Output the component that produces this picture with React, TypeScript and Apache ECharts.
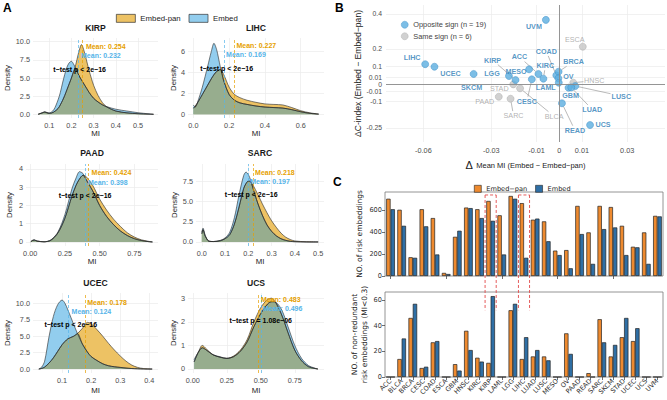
import React, { useEffect, useRef } from 'react';
import * as echarts from 'echarts';

// ---------------- Panel A: density curves (MI grid, density values) ----------------
const PANEL_NAMES = ['KIRP', 'LIHC', 'PAAD', 'SARC', 'UCEC', 'UCS'];

const KIRP_MI = [0.05, 0.07, 0.08, 0.09, 0.10, 0.12, 0.14, 0.15, 0.16, 0.17, 0.18, 0.19, 0.20, 0.21, 0.22, 0.23, 0.24, 0.245, 0.25, 0.26, 0.27, 0.28, 0.30, 0.32, 0.34, 0.36, 0.40, 0.45, 0.50, 0.55, 0.57];
const KIRP_PAN = [0, 0.2, 0.3, 0.2, 0.12, 0.3, 0.8, 1.3, 1.9, 2.6, 3.4, 4.2, 5.0, 5.9, 6.9, 8.2, 9.3, 9.6, 9.4, 8.4, 7.2, 6.0, 4.0, 2.6, 1.6, 1.0, 0.45, 0.2, 0.08, 0.02, 0];
const KIRP_EMB = [0, 0.25, 0.35, 0.25, 0.2, 0.6, 2.0, 3.0, 4.3, 5.5, 6.5, 7.1, 7.3, 6.9, 6.3, 5.6, 5.0, 4.75, 4.5, 4.0, 3.5, 3.0, 2.2, 1.7, 1.3, 1.05, 0.7, 0.45, 0.22, 0.06, 0];

const LIHC_MI = [0, 0.01, 0.03, 0.05, 0.08, 0.10, 0.115, 0.13, 0.15, 0.17, 0.20, 0.23, 0.26, 0.30, 0.35, 0.40, 0.45, 0.50, 0.55, 0.60, 0.65, 0.70];
const LIHC_PAN = [0.6, 0.8, 1.3, 1.9, 2.8, 3.4, 3.8, 4.1, 4.3, 3.8, 2.6, 1.9, 1.6, 1.35, 1.15, 1.0, 0.95, 0.9, 0.65, 0.35, 0.15, 0.03];
const LIHC_EMB = [0.9, 0.7, 1.5, 2.6, 4.6, 6.0, 6.8, 6.2, 4.6, 3.2, 1.9, 1.35, 1.1, 0.95, 0.8, 0.7, 0.65, 0.6, 0.45, 0.25, 0.1, 0.02];

const PAAD_MI = [0.005, 0.02, 0.03, 0.05, 0.10, 0.15, 0.20, 0.25, 0.30, 0.33, 0.355, 0.38, 0.40, 0.45, 0.50, 0.55, 0.60, 0.65, 0.70, 0.75, 0.80, 0.85, 0.88];
const PAAD_PAN = [0.02, 0.09, 0.1, 0.05, 0.01, 0.1, 0.5, 1.3, 2.5, 3.1, 3.45, 3.65, 3.6, 3.1, 2.35, 1.75, 1.25, 0.85, 0.5, 0.27, 0.12, 0.04, 0];
const PAAD_EMB = [0.02, 0.11, 0.12, 0.05, 0.01, 0.12, 0.55, 1.5, 2.9, 3.5, 3.85, 3.75, 3.45, 2.8, 2.0, 1.4, 0.95, 0.6, 0.35, 0.18, 0.08, 0.02, 0];

const SARC_MI = [0.0, 0.005, 0.015, 0.03, 0.05, 0.08, 0.10, 0.12, 0.14, 0.16, 0.18, 0.19, 0.20, 0.21, 0.22, 0.24, 0.26, 0.28, 0.30, 0.32, 0.34, 0.36, 0.38, 0.40, 0.45, 0.50];
const SARC_PAN = [1.0, 1.5, 0.7, 0.1, 0.05, 0.15, 0.4, 0.9, 2.2, 4.3, 6.6, 7.2, 7.5, 7.4, 7.0, 5.9, 4.7, 3.6, 2.6, 1.8, 1.1, 0.6, 0.3, 0.12, 0.02, 0];
const SARC_EMB = [1.2, 1.7, 0.8, 0.1, 0.05, 0.2, 0.5, 1.2, 3.0, 5.8, 8.2, 8.6, 8.3, 7.6, 6.6, 4.8, 3.3, 2.1, 1.3, 0.75, 0.4, 0.2, 0.08, 0.03, 0, 0];

const UCEC_MI = [0.02, 0.03, 0.04, 0.055, 0.07, 0.085, 0.10, 0.11, 0.12, 0.14, 0.153, 0.17, 0.187, 0.20, 0.22, 0.24, 0.26, 0.28, 0.30, 0.32, 0.34, 0.36, 0.38, 0.41];
const UCEC_PAN = [0, 0.1, 0.3, 0.9, 1.7, 2.7, 3.7, 4.2, 4.6, 5.0, 5.4, 6.2, 7.1, 6.9, 6.0, 5.0, 3.9, 2.9, 2.0, 1.2, 0.6, 0.25, 0.08, 0];
const UCEC_EMB = [0, 0.3, 1.2, 4.9, 8.0, 9.8, 10.5, 10.0, 9.0, 6.8, 5.4, 3.8, 2.6, 1.9, 1.3, 0.8, 0.5, 0.35, 0.25, 0.15, 0.08, 0.04, 0.01, 0];

const UCS_MI = [0.01, 0.04, 0.07, 0.10, 0.15, 0.20, 0.25, 0.30, 0.35, 0.40, 0.45, 0.50, 0.55, 0.58, 0.60, 0.65, 0.70, 0.75, 0.80, 0.85, 0.90, 0.92];
const UCS_PAN = [0.3, 0.7, 1.0, 0.85, 0.6, 0.5, 0.45, 0.55, 0.8, 1.25, 2.0, 2.6, 2.95, 3.0, 2.9, 2.35, 1.55, 0.8, 0.35, 0.1, 0.02, 0];
const UCS_EMB = [0.4, 0.7, 0.9, 0.8, 0.6, 0.52, 0.45, 0.52, 0.75, 1.15, 1.8, 2.35, 2.75, 2.85, 2.85, 2.55, 1.8, 1.0, 0.45, 0.15, 0.03, 0];

const MEAN_PAN = [0.254, 0.227, 0.424, 0.218, 0.178, 0.483];
const MEAN_EMB = [0.232, 0.169, 0.398, 0.197, 0.124, 0.496];
const TTEST = ['t−test p < 2e−16', 't−test p < 2e−16', 't−test p < 2e−16', 't−test p < 2e−16', 't−test p < 2e−16', 't−test p = 1.08e−06'];

const A_X_TICKS = [[0.1, 0.2, 0.3, 0.4, 0.5], [0, 0.2, 0.4, 0.6], [0, 0.25, 0.5, 0.75], [0, 0.1, 0.2, 0.3, 0.4, 0.5], [0.1, 0.2, 0.3, 0.4], [0, 0.25, 0.5, 0.75]];
const A_X_DEC = [1, 1, 2, 1, 1, 2];
const A_Y_TICKS = [[0, 2.5, 5, 7.5, 10], [0, 2, 4, 6], [0, 1, 2, 3, 4], [0, 2.5, 5, 7.5], [0, 2.5, 5, 7.5, 10], [0, 1, 2, 3]];
const A_Y_DEC = [1, 0, 0, 1, 1, 0];

// ---------------- Panel B: scatter ----------------
const B_CANCER = ['LIHC', 'UCEC', 'SKCM', 'LGG', 'KIRP', 'CESC', 'MESO', 'ACC', 'KIRC', 'UVM', 'COAD', 'BRCA', 'OV', 'LAML', 'GBM', 'LUSC', 'LUAD', 'READ', 'UCS', 'PAAD', 'SARC', 'STAD', 'BLCA', 'HNSC', 'ESCA'];
const B_DMI = [-0.0592, -0.0551, -0.0378, -0.0222, -0.0193, -0.0121, -0.0133, -0.0092, -0.0070, -0.0059, -0.0013, -0.0003, -0.0004, -0.0002, 0.0041, 0.0071, 0.0053, 0.0012, 0.0136, -0.0267, -0.0215, -0.0203, -0.0173, 0.0062, 0.0104];
const B_DC = [0.113, 0.098, 0.036, 0.0186, 0.0057, 0.0067, 0.076, 0.036, 0.0076, 0.366, 0.0246, 0.0555, 0.0081, 0.0019, -0.0053, -0.0029, -0.005, -0.110, -0.234, -0.059, -0.076, -0.0005, -0.0061, 0.0019, 0.213];
const B_X_TICKS = [-0.06, -0.03, -0.01, 0, 0.01, 0.03];
const B_Y_TICKS = [0.4, 0.2, 0.1, 0.01, 0, -0.01, -0.1, -0.25];

// ---------------- Panel C: bars ----------------
const CATEGORIES = ['ACC', 'BLCA', 'BRCA', 'CESC', 'COAD', 'ESCA', 'GBM', 'HNSC', 'KIRC', 'KIRP', 'LAML', 'LGG', 'LIHC', 'LUAD', 'LUSC', 'MESO', 'OV', 'PAAD', 'READ', 'SARC', 'SKCM', 'STAD', 'UCEC', 'UCS', 'UVM'];
const RISK_PAN = [700, 600, 170, 605, 525, 28, 355, 620, 605, 680, 550, 725, 660, 510, 495, 230, 235, 635, 395, 635, 625, 455, 265, 395, 545];
const RISK_EMB = [605, 455, 165, 450, 195, 18, 410, 615, 525, 500, 195, 700, 165, 520, 315, 190, 70, 380, 110, 425, 440, 190, 260, 110, 540];
const NONRED_PAN = [0, 14, 46, 7, 27, 0, 10, 36, 15, 11, 0, 52, 14, 16, 16, 0, 34, 0, 3, 45, 16, 31, 28, 0, 0];
const NONRED_EMB = [0, 30, 57, 8, 28, 0, 5, 21, 12, 63, 0, 57, 31, 21, 13, 0, 18, 0, 0, 27, 25, 46, 38, 0, 0];
const C_TOP_TICKS = [0, 200, 400, 600];
const C_BOT_TICKS = [0, 20, 40, 60];
const HIGHLIGHT = ['KIRP', 'LIHC'];

// ---------------- layout & style (kept apart from the data) ----------------
const A_LAYOUT = [
  { left: 33, right: 158, top: 38, bottom: 118, xMin: 0.027, xMax: 0.59, yMin: -0.51, yMax: 10.51, yGap: 20, xGap: 11, titleY: 28, panY: 9.3, embY: 8.1, tx: 0.237, ty: 6.2 },
  { left: 188, right: 324, top: 38, bottom: 118, xMin: -0.03, xMax: 0.73, yMin: -0.35, yMax: 7.31, yGap: 10, xGap: 11, titleY: 28, panY: 6.62, embY: 5.74, tx: 0.186, ty: 4.4 },
  { left: 26, right: 158, top: 164, bottom: 246, xMin: -0.03, xMax: 0.92, yMin: -0.22, yMax: 4.27, yGap: 13, xGap: 10, titleY: 153, panY: 3.78, embY: 3.25, tx: 0.395, ty: 2.54 },
  { left: 196, right: 324, top: 164, bottom: 246, xMin: -0.025, xMax: 0.525, yMin: -0.5, yMax: 9.6, yGap: 18, xGap: 10, titleY: 153, panY: 8.5, embY: 7.4, tx: 0.212, ty: 5.8 },
  { left: 33, right: 158, top: 293, bottom: 373, xMin: 0, xMax: 0.43, yMin: -0.6, yMax: 11.57, yGap: 20, xGap: 13, titleY: 283, panY: 10.1, embY: 8.75, tx: 0.13, ty: 6.85 },
  { left: 188, right: 324, top: 293, bottom: 373, xMin: -0.035, xMax: 0.965, yMin: -0.17, yMax: 3.22, yGap: 10, xGap: 13, titleY: 283, panY: 2.94, embY: 2.56, tx: 0.5, ty: 2.05 },
];
const B_LABEL_OFFSET: Record<string, [number, number]> = {
  LIHC: [-13, -7], UCEC: [16, 7], SKCM: [-2, 14], LGG: [-17, -2], KIRP: [-23, -20], MESO: [-13, 2],
  ACC: [-19, -17], KIRC: [2, -13], COAD: [-10, -24], UVM: [-12, 7], BRCA: [15, -10], OV: [10, -2],
  LAML: [-13, 5], GBM: [2, 8], LUSC: [46, 10], LUAD: [21, 22], READ: [13, 27], UCS: [13, -1],
  CESC: [-5, 22], PAAD: [-14, 5], SARC: [3, 17], STAD: [-14, 4], BLCA: [34, 28], HNSC: [21, -2], ESCA: [-8, -7],
};
const B_LINE_LABELS = ['KIRP', 'ACC', 'COAD', 'BRCA', 'LUSC', 'LUAD', 'READ', 'CESC', 'BLCA', 'HNSC', 'SARC', 'PAAD', 'KIRC'];
const RED_BOX = { topValue: 734, bottomValue: 52 };

const FONT_A = "'Liberation Sans', Arial, Helvetica, sans-serif";
const FONT_C = "'DejaVu Sans', 'Liberation Sans', sans-serif";
const ORANGE_FILL = '#EDC264';
const BLUE_FILL = '#92CDEE';
const OVERLAP_FILL = '#97AD8E';
const ORANGE_TEXT = '#E69F00';
const BLUE_TEXT = '#56B4E9';
const GRID_LINE = '#EBEBEB';
const TICK_TEXT = '#4D4D4D';
const BAR_ORANGE = '#EE8A2F';
const BAR_BLUE = '#2F6FA5';
const B_LABEL_FONT = 7.2;

function fmtTick(v: number) {
  const r = Math.round(v * 10000) / 10000;
  return r === 0 ? '0' : String(r);
}
// display transform of the C-index axis (stretched around zero)
function cToAxis(c: number) {
  const a = Math.abs(c), s = Math.sign(c);
  if (a <= 0.01) return c * 4;
  if (a <= 0.1) return s * (0.04 + (a - 0.01) * (0.06 / 0.09));
  return c;
}
function axisToC(d: number) {
  const a = Math.abs(d), s = Math.sign(d);
  if (a <= 0.04 + 1e-9) return d / 4;
  if (a <= 0.1 + 1e-9) return s * (0.01 + (a - 0.04) * 1.5);
  return d;
}

function buildOption() {
  const grids: any[] = [];
  const xAxes: any[] = [];
  const yAxes: any[] = [];
  const series: any[] = [];
  const graphics: any[] = [];

  const DENS = [
    { mi: KIRP_MI, pan: KIRP_PAN, emb: KIRP_EMB },
    { mi: LIHC_MI, pan: LIHC_PAN, emb: LIHC_EMB },
    { mi: PAAD_MI, pan: PAAD_PAN, emb: PAAD_EMB },
    { mi: SARC_MI, pan: SARC_PAN, emb: SARC_EMB },
    { mi: UCEC_MI, pan: UCEC_PAN, emb: UCEC_EMB },
    { mi: UCS_MI, pan: UCS_PAN, emb: UCS_EMB },
  ];

  DENS.forEach((d, i) => {
    const L = A_LAYOUT[i];
    grids.push({ left: L.left, top: L.top, width: L.right - L.left, height: L.bottom - L.top, outerBoundsMode: 'none' });
    xAxes.push({
      type: 'value', gridIndex: i, min: L.xMin, max: L.xMax,
      axisLine: { show: false },
      axisTick: { show: false, customValues: A_X_TICKS[i] },
      axisLabel: { customValues: A_X_TICKS[i], formatter: (v: number) => v.toFixed(A_X_DEC[i]), fontSize: 7.3, color: TICK_TEXT, margin: 4, fontFamily: FONT_A },
      splitLine: { show: true, lineStyle: { color: GRID_LINE, width: 0.7 } },
      name: 'MI', nameLocation: 'middle', nameGap: L.xGap,
      nameTextStyle: { fontSize: 7.8, color: '#1a1a1a', fontFamily: FONT_A },
    });
    yAxes.push({
      type: 'value', gridIndex: i, min: L.yMin, max: L.yMax,
      axisLine: { show: false },
      axisTick: { show: false, customValues: A_Y_TICKS[i] },
      axisLabel: { customValues: A_Y_TICKS[i], formatter: (v: number) => v.toFixed(A_Y_DEC[i]), fontSize: 7.3, color: TICK_TEXT, margin: 3, fontFamily: FONT_A },
      splitLine: { show: true, lineStyle: { color: GRID_LINE, width: 0.7 } },
      name: 'Density', nameLocation: 'middle', nameGap: L.yGap,
      nameTextStyle: { fontSize: 7.8, color: '#1a1a1a', fontFamily: FONT_A },
    });
    const common = {
      type: 'line', xAxisIndex: i, yAxisIndex: i, showSymbol: false, symbol: 'none', smooth: 0.3, silent: true,
      lineStyle: { color: '#262626', width: 0.6 },
    };
    series.push({ ...common, name: 'Embed-pan', data: d.mi.map((x, k) => [x, d.pan[k]]), itemStyle: { color: ORANGE_FILL }, areaStyle: { color: ORANGE_FILL, opacity: 1 } });
    series.push({ ...common, name: 'Embed', data: d.mi.map((x, k) => [x, d.emb[k]]), itemStyle: { color: BLUE_FILL }, areaStyle: { color: BLUE_FILL, opacity: 1 } });
    const lbl = { fontSize: 7, fontWeight: 'bold', fontFamily: FONT_A };
    series.push({
      ...common, name: 'overlap' + i,
      data: d.mi.map((x, k) => [x, Math.min(d.pan[k], d.emb[k])]),
      itemStyle: { color: OVERLAP_FILL }, areaStyle: { color: OVERLAP_FILL, opacity: 1 },
      markLine: {
        silent: true, symbol: ['none', 'none'], label: { show: false },
        data: [
          { xAxis: MEAN_PAN[i], lineStyle: { color: ORANGE_TEXT, type: [3, 2], width: 0.7 } },
          { xAxis: MEAN_EMB[i], lineStyle: { color: BLUE_TEXT, type: [3, 2], width: 0.7 } },
        ],
      },
      markPoint: {
        silent: true, symbol: 'circle', symbolSize: 1, itemStyle: { color: 'rgba(0,0,0,0)' },
        data: [
          { coord: [MEAN_PAN[i], L.panY], label: { show: true, position: 'right', distance: 2, formatter: 'Mean: ' + MEAN_PAN[i].toFixed(3), color: ORANGE_TEXT, ...lbl } },
          { coord: [MEAN_EMB[i], L.embY], label: { show: true, position: 'right', distance: 2, formatter: 'Mean: ' + MEAN_EMB[i].toFixed(3), color: BLUE_TEXT, ...lbl } },
          { coord: [L.tx, L.ty], label: { show: true, position: 'inside', formatter: TTEST[i], color: '#000', ...lbl } },
        ],
      },
    });
    graphics.push({
      type: 'text', id: 'title' + i, x: (L.left + L.right) / 2, y: L.titleY, silent: true,
      style: { text: PANEL_NAMES[i], align: 'center', verticalAlign: 'middle', fontSize: 8.6, fontWeight: 'bold', fontFamily: FONT_A, fill: '#1a1a1a' },
    });
  });

  // ---- Panel B ----
  const bi = 6;
  grids.push({ left: 386, top: 5, width: 279, height: 137, outerBoundsMode: 'none' });
  xAxes.push({
    type: 'value', gridIndex: bi, min: -0.0765, max: 0.0467,
    axisLine: { show: false }, axisTick: { show: false, customValues: B_X_TICKS },
    axisLabel: { customValues: B_X_TICKS, formatter: fmtTick, fontSize: 7.3, color: TICK_TEXT, margin: 5, fontFamily: FONT_A },
    splitLine: { show: true, lineStyle: { color: GRID_LINE, width: 0.7 } },
    name: '{d|Δ} {t|Mean MI (Embed − Embed−pan)}', nameLocation: 'middle', nameGap: 17,
    nameTextStyle: { fontFamily: FONT_A, color: '#1a1a1a', rich: { d: { fontSize: 11, fontFamily: FONT_A, color: '#1a1a1a' }, t: { fontSize: 7.5, fontFamily: FONT_A, color: '#1a1a1a' } } },
  });
  const bYTicks = B_Y_TICKS.map(cToAxis);
  yAxes.push({
    type: 'value', gridIndex: bi, min: -0.331, max: 0.451,
    axisLine: { show: false }, axisTick: { show: false, customValues: bYTicks },
    axisLabel: { customValues: bYTicks, formatter: (v: number) => fmtTick(axisToC(v)), fontSize: 6.8, color: TICK_TEXT, margin: 4, fontFamily: FONT_A },
    splitLine: { show: true, lineStyle: { color: GRID_LINE, width: 0.7 } },
    name: 'ΔC-index (Embed − Embed−pan)', nameLocation: 'middle', nameGap: 22,
    nameTextStyle: { fontSize: 8.6, color: '#1a1a1a', fontFamily: FONT_A },
  });
  series.push({
    type: 'scatter', name: 'zero-lines', xAxisIndex: bi, yAxisIndex: bi, data: [], z: 1, silent: true,
    markLine: {
      silent: true, symbol: ['none', 'none'], label: { show: false },
      lineStyle: { color: '#8a8a8a', width: 0.9, type: 'solid' },
      data: [{ xAxis: 0 }, { yAxis: 0 }],
    },
  });
  const opp: any[] = [];
  const same: any[] = [];
  B_CANCER.forEach((name, k) => {
    const item = { name, value: [B_DMI[k], cToAxis(B_DC[k])] };
    if (B_DMI[k] * B_DC[k] < 0) opp.push(item); else same.push(item);
  });
  const oppName = `Opposite sign (n = ${opp.length})`;
  const sameName = `Same sign (n = ${same.length})`;
  const labelLayout = (p: any) => {
    const o = B_LABEL_OFFSET[p.text] || [0, 0];
    return { dx: o[0], dy: o[1] };
  };
  series.push({
    type: 'scatter', name: sameName, xAxisIndex: bi, yAxisIndex: bi, data: same, symbolSize: 7, z: 3, silent: true,
    itemStyle: { color: '#C6C6C6', borderColor: '#ABABAB', borderWidth: 0.6 },
    label: { show: true, position: 'inside', formatter: '{b}', color: '#9E9E9E', fontSize: B_LABEL_FONT, fontFamily: FONT_A },
    labelLayout,
  });
  series.push({
    type: 'scatter', name: oppName, xAxisIndex: bi, yAxisIndex: bi, data: opp, symbolSize: 7, z: 3, silent: true,
    itemStyle: { color: '#5BAEE0', borderColor: '#3A8DC6', borderWidth: 0.6 },
    label: { show: true, position: 'inside', formatter: '{b}', color: '#2C7DB6', fontWeight: 'bold', fontSize: B_LABEL_FONT, fontFamily: FONT_A },
    labelLayout,
  });

  // ---- Panel C ----
  const cTop = 7, cBot = 8;
  grids.push({ left: 385, top: 192, width: 278, height: 84, show: true, borderColor: '#7a7a7a', borderWidth: 0.8, backgroundColor: 'rgba(0,0,0,0)', outerBoundsMode: 'none' });
  grids.push({ left: 385, top: 292, width: 278, height: 85, show: true, borderColor: '#7a7a7a', borderWidth: 0.8, backgroundColor: 'rgba(0,0,0,0)', outerBoundsMode: 'none' });
  [cTop, cBot].forEach((gi) => {
    xAxes.push({
      type: 'category', gridIndex: gi, data: CATEGORIES,
      axisLine: { show: false },
      axisTick: { show: true, alignWithLabel: true, length: 3, lineStyle: { color: '#333', width: 0.7 } },
      axisLabel: gi === cTop ? { show: false } : { show: true, interval: 0, rotate: 45, fontSize: 6.6, color: '#333', margin: 3, fontFamily: FONT_C },
      splitLine: { show: false },
    });
  });
  yAxes.push({
    type: 'value', gridIndex: cTop, min: 0, max: 761,
    axisLine: { show: false },
    axisTick: { show: true, length: 3, customValues: C_TOP_TICKS, lineStyle: { color: '#333', width: 0.7 } },
    axisLabel: { customValues: C_TOP_TICKS, fontSize: 6.6, color: '#333', margin: 3, fontFamily: FONT_C },
    splitLine: { show: false },
    name: 'NO. of risk embeddings', nameLocation: 'middle', nameGap: 22,
    nameTextStyle: { fontSize: 7.5, color: '#222', fontFamily: FONT_C },
  });
  yAxes.push({
    type: 'value', gridIndex: cBot, min: 0, max: 66.2,
    axisLine: { show: false },
    axisTick: { show: true, length: 3, customValues: C_BOT_TICKS, lineStyle: { color: '#333', width: 0.7 } },
    axisLabel: { customValues: C_BOT_TICKS, fontSize: 6.6, color: '#333', margin: 3, fontFamily: FONT_C },
    splitLine: { show: false },
    name: 'NO. of non-redundant\nrisk embeddings (MI<0.3)', nameLocation: 'middle', nameGap: 14,
    nameTextStyle: { fontSize: 7.5, color: '#222', fontFamily: FONT_C, lineHeight: 10 },
  });
  const barCommon = { type: 'bar', barGap: '0%', barCategoryGap: '22%', silent: true };
  series.push({ ...barCommon, name: 'Embed−pan', xAxisIndex: cTop, yAxisIndex: cTop, data: RISK_PAN, itemStyle: { color: BAR_ORANGE, borderColor: '#222', borderWidth: 0.7 } });
  series.push({ ...barCommon, name: 'Embed ', xAxisIndex: cTop, yAxisIndex: cTop, data: RISK_EMB, itemStyle: { color: BAR_BLUE, borderColor: '#222', borderWidth: 0.7 } });
  series.push({ ...barCommon, name: 'Embed−pan', xAxisIndex: cBot, yAxisIndex: cBot, data: NONRED_PAN, itemStyle: { color: BAR_ORANGE, borderColor: '#222', borderWidth: 0.7 } });
  series.push({ ...barCommon, name: 'Embed ', xAxisIndex: cBot, yAxisIndex: cBot, data: NONRED_EMB, itemStyle: { color: BAR_BLUE, borderColor: '#222', borderWidth: 0.7 } });

  // panel letters
  [['A', 3, 2], ['B', 335, 2], ['C', 333, 176]].forEach(([t, x, y]: any) => {
    graphics.push({ type: 'text', id: 'letter' + t, x, y, silent: true, style: { text: t, fontSize: 12, fontWeight: 'bold', fontFamily: FONT_A, fill: '#000' } });
  });

  return {
    animation: false,
    backgroundColor: '#ffffff',
    grid: grids,
    xAxis: xAxes,
    yAxis: yAxes,
    series,
    legend: [
      {
        left: 111, top: 9, icon: 'rect', itemWidth: 19, itemHeight: 8, itemGap: 8, selectedMode: false,
        textStyle: { fontSize: 7.8, color: '#1a1a1a', fontFamily: FONT_A },
        data: [
          { name: 'Embed-pan', itemStyle: { color: ORANGE_FILL, borderColor: '#333', borderWidth: 0.7 } },
          { name: 'Embed', itemStyle: { color: BLUE_FILL, borderColor: '#333', borderWidth: 0.7 } },
        ],
      },
      {
        left: 396, top: 16, orient: 'vertical', icon: 'circle', itemWidth: 7, itemHeight: 7, itemGap: 4, selectedMode: false,
        textStyle: { fontSize: 7.4, color: '#444', fontFamily: FONT_A },
        data: [
          { name: oppName, itemStyle: { color: '#5BAEE0', borderColor: '#3A8DC6', borderWidth: 0.5 } },
          { name: sameName, itemStyle: { color: '#C6C6C6', borderColor: '#ABABAB', borderWidth: 0.5 } },
        ],
      },
      {
        left: 469, top: 180, icon: 'rect', itemWidth: 7, itemHeight: 7, itemGap: 8, selectedMode: false,
        formatter: (n: string) => n.trim(),
        textStyle: { fontSize: 6.6, color: '#222', fontFamily: FONT_C },
        data: [
          { name: 'Embed−pan', itemStyle: { color: BAR_ORANGE, borderColor: '#222', borderWidth: 0.6 } },
          { name: 'Embed ', itemStyle: { color: BAR_BLUE, borderColor: '#222', borderWidth: 0.6 } },
        ],
      },
    ],
    graphic: { elements: graphics },
  };
}

// leader lines for the moved scatter labels, from the label box to the point
function leaderLineElements(chart: any) {
  const els: any[] = [];
  B_CANCER.forEach((name, k) => {
    if (!B_LINE_LABELS.includes(name)) return;
    const p = chart.convertToPixel({ gridIndex: 6 }, [B_DMI[k], cToAxis(B_DC[k])]) as number[];
    const o = B_LABEL_OFFSET[name] || [0, 0];
    const cx = p[0] + o[0], cy = p[1] + o[1];
    const hw = (name.length * B_LABEL_FONT * 0.68) / 2 + 1, hh = B_LABEL_FONT / 2 + 1;
    const dx = p[0] - cx, dy = p[1] - cy;
    const len = Math.hypot(dx, dy);
    if (len < 1) return;
    const t = Math.min(Math.abs(dx) > 0 ? hw / Math.abs(dx) : Infinity, Math.abs(dy) > 0 ? hh / Math.abs(dy) : Infinity);
    const sx = cx + dx * t, sy = cy + dy * t;
    const ex = p[0] - (dx / len) * 3.5, ey = p[1] - (dy / len) * 3.5;
    if (Math.hypot(ex - sx, ey - sy) < 1.5 || t >= 1) return;
    els.push({ type: 'line', id: 'lead' + name, silent: true, z: 2, shape: { x1: sx, y1: sy, x2: ex, y2: ey }, style: { stroke: '#8c8c8c', lineWidth: 0.6 } });
  });
  return els;
}

function redBoxElements(chart: any) {
  const px = (c: string) => chart.convertToPixel({ xAxisIndex: 7 }, c) as number;
  const slot = px(CATEGORIES[1]) - px(CATEGORIES[0]);
  const yTop = chart.convertToPixel({ yAxisIndex: 7 }, RED_BOX.topValue) as number;
  const yBot = chart.convertToPixel({ yAxisIndex: 8 }, RED_BOX.bottomValue) as number;
  const els: any[] = [];
  const style = { stroke: '#E24A4A', lineWidth: 0.9, lineDash: [3, 2] };
  HIGHLIGHT.forEach((c, k) => {
    const cx = px(c);
    const l = cx - slot / 2;
    const r = cx + slot / 2;
    els.push({ type: 'line', id: `rb${k}l`, silent: true, z: 100, shape: { x1: l, y1: yTop, x2: l, y2: yBot }, style });
    els.push({ type: 'line', id: `rb${k}r`, silent: true, z: 100, shape: { x1: r, y1: yTop, x2: r, y2: yBot }, style });
    els.push({ type: 'line', id: `rb${k}t`, silent: true, z: 100, shape: { x1: l, y1: yTop, x2: r, y2: yTop }, style });
  });
  return els;
}

export default function App() {
  const ref = useRef<HTMLDivElement>(null);
  useEffect(() => {
    if (!ref.current) return;
    const chart = echarts.init(ref.current, null, { renderer: 'svg' });
    chart.setOption(buildOption() as any);
    chart.setOption({ graphic: { elements: [...redBoxElements(chart), ...leaderLineElements(chart)] } } as any);
    return () => chart.dispose();
  }, []);
  return <div ref={ref} style={{ position: 'absolute', left: 0, top: 0, width: 667, height: 400, background: '#fff' }} />;
}
